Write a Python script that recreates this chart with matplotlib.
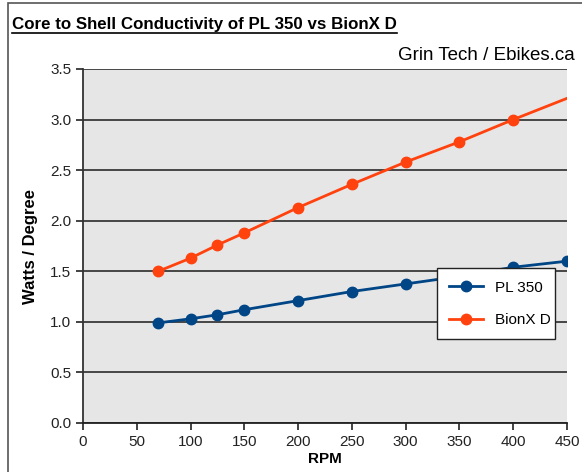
import matplotlib
matplotlib.use('Agg')
import matplotlib.pyplot as plt
from matplotlib.patches import Rectangle
from matplotlib.lines import Line2D

plt.rcParams['font.family'] = ['Liberation Sans', 'DejaVu Sans']

# dados
rpm = [70, 100, 125, 150, 200, 250, 300, 350, 400, 450]
pl350 = [0.99, 1.03, 1.07, 1.12, 1.21, 1.30, 1.375, 1.45, 1.54, 1.60]
rpmBionx = [70, 100, 125, 150, 200, 250, 300, 350, 400, 500]
bionx = [1.50, 1.63, 1.76, 1.88, 2.13, 2.36, 2.58, 2.78, 3.00, 3.42]
yticks = [0.0, 0.5, 1.0, 1.5, 2.0, 2.5, 3.0, 3.5]
xticks = [0, 50, 100, 150, 200, 250, 300, 350, 400, 450]

azul = '#004586'
laranja = '#ff420e'

fig = plt.figure(figsize=(5.82, 4.72), dpi=100)
ax = fig.add_axes([83/582, 49/472, 484/582, 354/472])
ax.set_facecolor('#e6e6e6')

# moldura externa
fig.patches.append(Rectangle((8/582, -0.1), 1.2, 0.1 + 469/472, transform=fig.transFigure,
                             fill=False, edgecolor='#555555', linewidth=1.2))

for y in yticks:
    ax.axhline(y, color='#3a3a3a', linewidth=1.3, zorder=1)

ax.plot(rpm, pl350, color=azul, linewidth=2.0, marker='o', markersize=7.5, label='PL 350', zorder=3)
ax.plot(rpmBionx, bionx, color=laranja, linewidth=2.0, marker='o', markersize=7.5, label='BionX D', zorder=3)

ax.set_xlim(0, 450)
ax.set_ylim(0, 3.5)
ax.set_xticks(xticks)
ax.set_yticks(yticks)
ax.set_yticklabels([f'{v:.1f}' for v in yticks])
ax.tick_params(axis='both', labelsize=11, length=5, width=1.2, color='#222222', labelcolor='#222222')
ax.spines['top'].set_visible(False)
ax.spines['right'].set_visible(False)
ax.spines['left'].set_linewidth(1.3)
ax.spines['bottom'].set_linewidth(1.3)
ax.spines['left'].set_color('#333333')
ax.spines['bottom'].set_color('#222222')

ax.set_xlabel('RPM', fontsize=11, fontweight='bold', labelpad=2)
ax.set_ylabel('Watts / Degree', fontsize=12, fontweight='bold', labelpad=9)

leg = ax.legend(loc='lower left', bbox_to_anchor=(0.731, 0.237, 0.244, 0.19), mode='expand',
                borderaxespad=0, fontsize=11, fancybox=False, framealpha=1, edgecolor='#222222',
                borderpad=0.8, labelspacing=1.2, handlelength=2.2)
leg.get_frame().set_linewidth(1.0)
leg.set_zorder(5)

titulo = fig.text(12/582, 1 - 25/472, 'Core to Shell Conductivity of PL 350 vs BionX D',
                  fontsize=12.2, fontweight='bold', va='center', ha='left')
fig.text(575/582, 1 - 55/472, 'Grin Tech / Ebikes.ca', fontsize=13.5, va='center', ha='right')

# sublinhado do titulo
fig.canvas.draw()
bb = titulo.get_window_extent().transformed(fig.transFigure.inverted())
fig.add_artist(Line2D([bb.x0, bb.x1], [bb.y0 - 0.002, bb.y0 - 0.002], transform=fig.transFigure,
                      color='black', linewidth=1.2))

fig.savefig('out.png', dpi=100)
